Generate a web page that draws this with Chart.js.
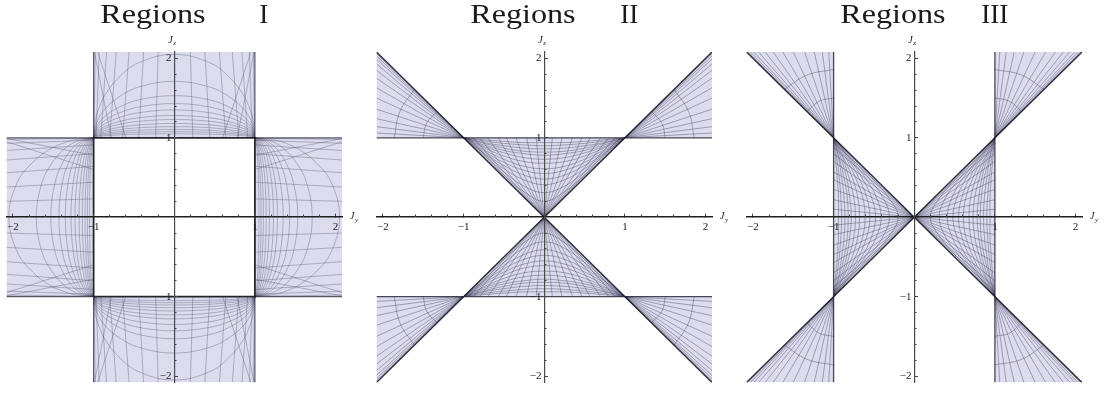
<!DOCTYPE html>
<html>
<head>
<meta charset="utf-8">
<title>Regions</title>
<script src="https://cdn.jsdelivr.net/npm/chart.js@4.4.1/dist/chart.umd.min.js"></script>
<style>
  body { margin: 0; background: #fff; }
  #row { display: flex; }
  canvas { display: block; }
</style>
</head>
<body>
<div id="row">
  <canvas id="panel1" width="370" height="396"></canvas>
  <canvas id="panel2" width="370" height="396"></canvas>
  <canvas id="panel3" width="370" height="396"></canvas>
</div>
<script>
const titleWord = 'Regions';
const numerals = ['I', 'II', 'III'];
const lim = 2.08;
const axisTicks = [-2, -1, 1, 2];
const minorTicks = [-1.8, -1.6, -1.4, -1.2, -0.8, -0.6, -0.4, -0.2, 0.2, 0.4, 0.6, 0.8, 1.2, 1.4, 1.6, 1.8];

// Regions I: the arm above the unit square (other arms are turned copies)
const armCorners = [[-1, 1], [1, 1], [1, lim], [-1, lim]];
const armArcTops = [2.05, 1.71, 1.53, 1.43, 1.35, 1.28, 1.23, 1.18, 1.14, 1.105, 1.077, 1.05];
const armArcX = [0, 0.44, 0.69, 0.86, 0.94, 0.975, 1];
const armArcLift = [1, 0.9, 0.72, 0.51, 0.34, 0.22, 0];
const armRayTop = [0.2, 0.38, 0.56, 0.72, 0.84, 0.93, 0.98];
const armRayFoot = [0.23, 0.44, 0.64, 0.8, 0.91, 0.97, 0.995];
const armCrossTop = [0.99, 0.95];
const armCrossFoot = [0.78, 0.6];

// Regions II: the V above the axis and the wedge to its upper right
const innerCorners = [[0, 0], [1, 1], [-1, 1]];
const wedgeCorners = [[1, 1], [lim, lim], [lim, 1]];
const innerArcX = [0, 0.25, 0.5, 0.75, 1];
const innerArcs = [
  [0.20, 0.32, 0.53, 0.76, 1],
  [0.31, 0.39, 0.57, 0.78, 1],
  [0.41, 0.47, 0.61, 0.80, 1],
  [0.48, 0.53, 0.65, 0.81, 1],
  [0.55, 0.59, 0.69, 0.83, 1],
  [0.61, 0.64, 0.73, 0.85, 1],
  [0.68, 0.70, 0.77, 0.875, 1],
  [0.73, 0.75, 0.81, 0.89, 1],
  [0.78, 0.80, 0.84, 0.91, 1],
  [0.82, 0.83, 0.87, 0.93, 1],
  [0.86, 0.87, 0.90, 0.94, 1],
  [0.90, 0.91, 0.93, 0.96, 1],
  [0.94, 0.94, 0.955, 0.975, 1]
];
const innerRayTop = [0.1, 0.22, 0.35, 0.47, 0.57, 0.7, 0.8, 0.88, 0.94];
const wedgeRayEnd = [1.06, 1.14, 1.24, 1.36, 1.5, 1.63, 1.75, 1.85, 1.93, 1.99, 2.03, 2.06];
const wedgeArcs = [
  [[1.5, 1], [1.46, 1.18], [1.33, 1.33]],
  [[1.86, 1], [1.79, 1.33], [1.61, 1.61]]
];

const fillColor = 'rgb(220, 220, 238)';
const meshLight = 'rgba(70, 70, 100, 0.42)';
const meshDense = 'rgba(60, 60, 90, 0.5)';

const flipX = list => list.map(([a, b]) => [-a, b]);
const flipY = list => list.map(([a, b]) => [a, -b]);
const swapXY = list => list.map(([a, b]) => [b, a]);
const toPoints = list => list.map(([x, y]) => ({x, y}));

function symmetricCurve(xs, ys) {
  const half = xs.map((x, i) => [x, ys[i]]);
  return flipX(half.slice(1)).reverse().concat(half);
}

// --- Regions I ---
const armArcs = armArcTops.map(top => symmetricCurve(armArcX, armArcLift.map(f => 1 + (top - 1) * f)));
const armRays = armRayTop.flatMap((t, i) => [
  [[-armRayFoot[i], 1], [-t, lim]], [[armRayFoot[i], 1], [t, lim]]
]).concat(armCrossTop.flatMap((t, i) => [
  [[-armCrossFoot[i], 1], [-t, lim]], [[armCrossFoot[i], 1], [t, lim]]
]));
const armTurns = [a => a, flipY, swapXY, a => flipX(swapXY(a))];

const regionsI = {
  mesh: meshLight,
  fills: armTurns.map(tf => tf(armCorners)),
  curves: armTurns.flatMap(tf => armArcs.map(tf)),
  lines: armTurns.flatMap(tf => armRays.map(tf)),
  edges: [
    {pts: [[-1, -1], [1, -1], [1, 1], [-1, 1], [-1, -1]], color: 'rgba(25, 25, 35, 0.95)', width: 1.8}
  ].concat(armTurns.flatMap(tf => [
    {pts: tf([[-1, 1], [-1, lim]]), color: 'rgba(50, 50, 70, 0.8)', width: 1.2},
    {pts: tf([[1, 1], [1, lim]]), color: 'rgba(50, 50, 70, 0.8)', width: 1.2}
  ]))
};

// --- Regions II ---
const vFlips = [a => a, flipY];
const wFlips = [a => a, flipX, flipY, a => flipX(flipY(a))];
const innerCurves = innerArcs.map(zs => symmetricCurve(innerArcX, zs));
const innerRays = innerRayTop.flatMap(c => [[[0, 0], [-c, 1]], [[0, 0], [c, 1]]]);
const wedgeRays = wedgeRayEnd.map(h => [[1, 1], [lim, h]]);

const regionsII = {
  mesh: meshDense,
  fills: vFlips.map(tf => tf(innerCorners)).concat(wFlips.map(tf => tf(wedgeCorners))),
  curves: vFlips.flatMap(tf => innerCurves.map(tf)).concat(wFlips.flatMap(tf => wedgeArcs.map(tf))),
  lines: vFlips.flatMap(tf => innerRays.map(tf)).concat(wFlips.flatMap(tf => wedgeRays.map(tf))),
  edges: [
    {pts: [[-lim, -lim], [lim, lim]], color: 'rgba(25, 25, 35, 0.9)', width: 1.4},
    {pts: [[-lim, lim], [lim, -lim]], color: 'rgba(25, 25, 35, 0.9)', width: 1.4},
    {pts: [[-lim, 1], [lim, 1]], color: 'rgba(40, 40, 55, 0.85)', width: 1.3},
    {pts: [[-lim, -1], [lim, -1]], color: 'rgba(40, 40, 55, 0.85)', width: 1.3}
  ]
};

// --- Regions III: the same pieces with the two axes exchanged ---
const regionsIII = {
  mesh: meshDense,
  fills: regionsII.fills.map(swapXY),
  curves: regionsII.curves.map(swapXY),
  lines: regionsII.lines.map(swapXY),
  edges: regionsII.edges.map(e => ({...e, pts: swapXY(e.pts)}))
};

function tickLabel(v, axis) {
  const s = v < 0 ? '\u2212' + (-v) : String(v);
  return axis === 'y' ? s + ' ' : s;
}

function axisScale(axis, major) {
  const other = axis === 'x' ? 'y' : 'x';
  return {
    type: 'linear',
    axis: axis,
    min: -lim,
    max: lim,
    position: {[other]: 0},
    afterBuildTicks: s => { s.ticks = (major ? axisTicks : minorTicks).map(value => ({value})); },
    grid: {drawOnChartArea: false, drawTicks: true, tickLength: major ? -4 : -2.5, tickColor: '#444', tickWidth: 1, z: 1},
    border: {display: major, color: axis === 'x' ? '#1e1e1e' : '#4a4a4a', width: axis === 'x' ? 1.6 : 1.2, z: 1},
    ticks: {
      display: major, autoSkip: false, maxRotation: 0, padding: 7, z: 1,
      font: {family: 'Liberation Serif', size: 11}, color: '#222',
      callback: v => tickLabel(v, axis)
    }
  };
}

const panelText = {
  id: 'panelText',
  afterDraw(chart, args, opts) {
    const {ctx, chartArea} = chart;
    const cx = chart.scales.x.getPixelForValue(0);
    const cy = chart.scales.y.getPixelForValue(0);
    ctx.save();
    ctx.fillStyle = '#1a1a1a';
    ctx.textBaseline = 'alphabetic';
    ctx.font = '27px "Liberation Serif"';
    ctx.save();
    ctx.translate(cx - 74, 22.5);
    ctx.scale(1.19, 1);
    ctx.textAlign = 'left';
    ctx.fillText(titleWord, 0, 0);
    ctx.restore();
    ctx.textAlign = 'right';
    ctx.fillText(opts.numeral, cx + 94, 22.5);

    ctx.textAlign = 'left';
    ctx.font = 'italic 10px "Liberation Serif"';
    ctx.fillText('J', cx - 6, chartArea.top - 9);
    ctx.fillText('J', chartArea.right + 8, cy + 2);
    ctx.font = 'italic 7px "Liberation Serif"';
    ctx.fillText('z', cx - 1, chartArea.top - 7);
    ctx.fillText('y', chartArea.right + 13, cy + 5);
    ctx.restore();
  }
};

function makeChart(id, numeral, shapes) {
  const datasets = [];
  shapes.fills.forEach(p => datasets.push({
    data: toPoints(p.concat([p[0]])), showLine: true, fill: 'shape',
    backgroundColor: fillColor, borderColor: 'transparent', pointRadius: 0, order: 3
  }));
  shapes.curves.forEach(p => datasets.push({
    data: toPoints(p), showLine: true, borderColor: shapes.mesh, borderWidth: 0.8,
    tension: 0.4, pointRadius: 0, order: 2
  }));
  shapes.lines.forEach(p => datasets.push({
    data: toPoints(p), showLine: true, borderColor: shapes.mesh, borderWidth: 0.8,
    pointRadius: 0, order: 2
  }));
  shapes.edges.forEach(e => datasets.push({
    data: toPoints(e.pts), showLine: true, borderColor: e.color, borderWidth: e.width,
    pointRadius: 0, order: 1
  }));

  return new Chart(document.getElementById(id), {
    type: 'scatter',
    data: {datasets},
    options: {
      responsive: false,
      animation: false,
      events: [],
      layout: {padding: {left: 5, right: 28, top: 52, bottom: 8}},
      plugins: {legend: {display: false}, tooltip: {enabled: false}, panelText: {numeral}},
      scales: {
        x: axisScale('x', true),
        xm: axisScale('x', false),
        y: axisScale('y', true),
        ym: axisScale('y', false)
      }
    },
    plugins: [panelText]
  });
}

makeChart('panel1', numerals[0], regionsI);
makeChart('panel2', numerals[1], regionsII);
makeChart('panel3', numerals[2], regionsIII);
</script>
</body>
</html>
